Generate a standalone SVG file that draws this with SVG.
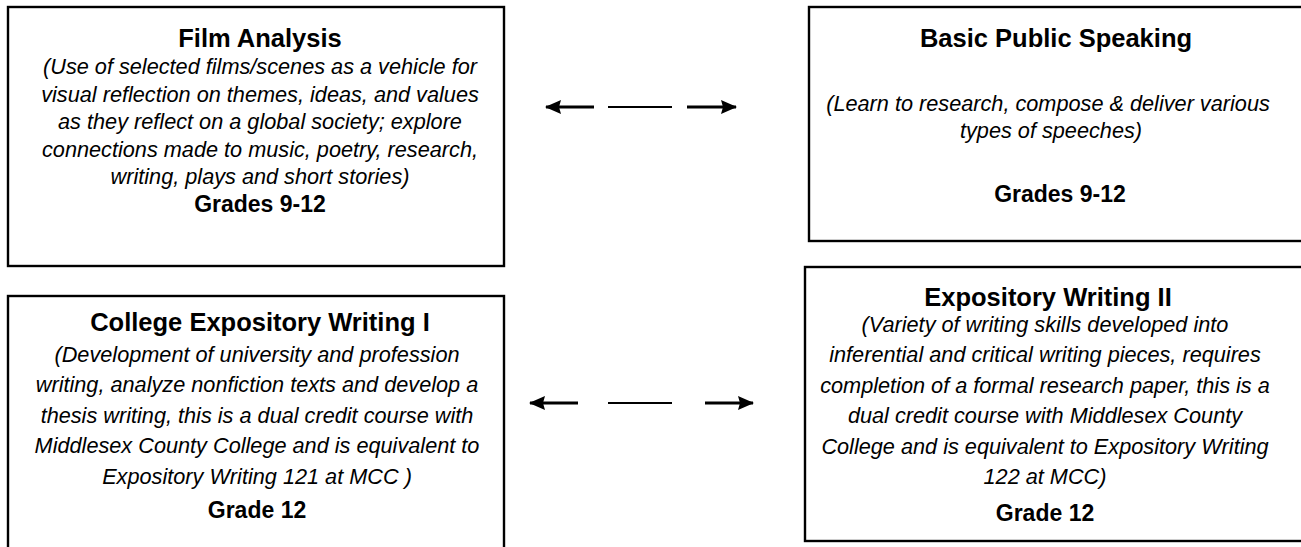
<svg xmlns="http://www.w3.org/2000/svg" width="1301" height="547" viewBox="0 0 1301 547">
<defs>
<style>
.box{fill:#fff;stroke:#000;stroke-width:2.4}
.t{font-family:"Liberation Sans",Arial,sans-serif;font-weight:bold;font-size:25.5px;text-anchor:middle;fill:#000}
.g{font-family:"Liberation Sans",Arial,sans-serif;font-weight:bold;font-size:23px;text-anchor:middle;fill:#000}
.d{font-family:"Liberation Sans",Arial,sans-serif;font-style:italic;font-size:21.7px;text-anchor:middle;fill:#000}
.c{stroke:#000;stroke-width:3;fill:none}
.m{stroke:#000;stroke-width:2;fill:none}
</style>
<marker id="ah" viewBox="0 0 16 14" refX="15" refY="7" markerWidth="16" markerHeight="14" markerUnits="userSpaceOnUse" orient="auto-start-reverse">
<path d="M0,0 L16,7 L0,14 L2,7 Z" fill="#000"/>
</marker>
</defs>
<rect width="1301" height="547" fill="#fff"/>

<g id="film-analysis">
<rect class="box" x="8" y="7" width="496" height="259"/>
<text class="t" x="260" y="47">Film Analysis</text>
<text class="d" x="260" y="74">(Use of selected films/scenes as a vehicle for</text>
<text class="d" x="260" y="101.5">visual reflection on themes, ideas, and values</text>
<text class="d" x="260" y="129">as they reflect on a global society; explore</text>
<text class="d" x="260" y="156.5">connections made to music, poetry, research,</text>
<text class="d" x="260" y="184">writing, plays and short stories)</text>
<text class="g" x="260" y="212">Grades 9-12</text>
</g>

<g id="basic-public-speaking">
<rect class="box" x="809" y="7" width="500" height="234"/>
<text class="t" x="1056" y="47">Basic Public Speaking</text>
<text class="d" x="1048" y="111">(Learn to research, compose &amp; deliver various</text>
<text class="d" x="1051" y="137.5">types of speeches)</text>
<text class="g" x="1060" y="202">Grades 9-12</text>
</g>

<g id="college-expository-writing-1">
<rect class="box" x="8" y="296" width="496" height="260"/>
<text class="t" x="260" y="331">College Expository Writing I</text>
<text class="d" x="257" y="362">(Development of university and profession</text>
<text class="d" x="257" y="392">writing, analyze nonfiction texts and develop a</text>
<text class="d" x="257" y="422.5">thesis writing, this is a dual credit course with</text>
<text class="d" x="257" y="453">Middlesex County College and is equivalent to</text>
<text class="d" x="257" y="483.5">Expository Writing 121 at MCC )</text>
<text class="g" x="257" y="518">Grade 12</text>
</g>

<g id="expository-writing-2">
<rect class="box" x="805" y="267" width="504" height="274"/>
<text class="t" x="1048" y="306">Expository Writing II</text>
<text class="d" x="1045" y="332">(Variety of writing skills developed into</text>
<text class="d" x="1045" y="362">inferential and critical writing pieces, requires</text>
<text class="d" x="1045" y="392.5">completion of a formal research paper, this is a</text>
<text class="d" x="1045" y="423">dual credit course with Middlesex County</text>
<text class="d" x="1045" y="453.5">College and is equivalent to Expository Writing</text>
<text class="d" x="1045" y="484">122 at MCC)</text>
<text class="g" x="1045" y="521">Grade 12</text>
</g>

<g id="connectors">
<line class="c" x1="594" y1="107" x2="546" y2="107" marker-end="url(#ah)"/>
<line class="m" x1="608" y1="107" x2="672" y2="107"/>
<line class="c" x1="687" y1="107" x2="736" y2="107" marker-end="url(#ah)"/>
<line class="c" x1="578" y1="403" x2="530" y2="403" marker-end="url(#ah)"/>
<line class="m" x1="608" y1="403" x2="672" y2="403"/>
<line class="c" x1="705" y1="403" x2="753" y2="403" marker-end="url(#ah)"/>
</g>
</svg>
